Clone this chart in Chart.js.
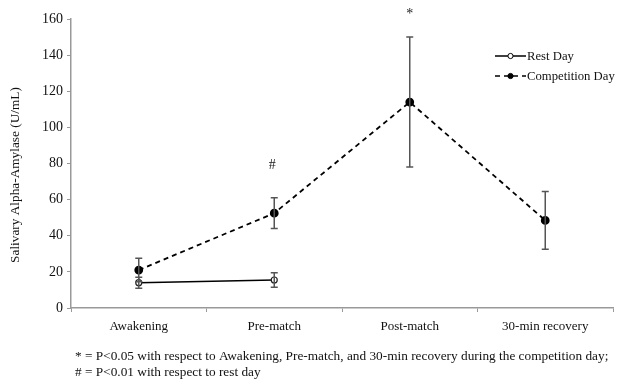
<!DOCTYPE html>
<html>
<head>
<meta charset="utf-8">
<script src="https://cdn.jsdelivr.net/npm/chart.js@4.4.1/dist/chart.umd.min.js"></script>
<style>
html,body{margin:0;padding:0;background:#fff;}
#wrap{width:619px;height:382px;position:relative;}
</style>
</head>
<body>
<div id="wrap"><canvas id="c" width="619" height="382"></canvas></div>
<script>
const categories = ["Awakening", "Pre-match", "Post-match", "30-min recovery"];
const restMean = [14, 15.5, null, null];
const restSD = [3, 4, null, null];
const compMean = [21, 52.5, 114, 48.5];
const compSD = [6.5, 8.5, 36, 16];
const yTicks = [0, 20, 40, 60, 80, 100, 120, 140, 160];
const yTitle = "Salivary Alpha-Amylase (U/mL)";
const annotations = [{index: 1, value: 79, text: "#"}, {index: 2, value: 162.5, text: "*"}];
const footnotes = [
  "* = P<0.05 with respect to Awakening, Pre-match, and 30-min recovery during the competition day;",
  "# = P<0.01 with respect to rest day"
];

const FONT = "'Liberation Serif', 'DejaVu Serif', serif";

const errorBars = {
  id: 'errorBars',
  afterDatasetsDraw(chart) {
    const ctx = chart.ctx, x = chart.scales.x, y = chart.scales.y;
    const sets = [[restMean, restSD], [compMean, compSD]];
    ctx.save();
    ctx.strokeStyle = '#555';
    ctx.lineWidth = 1.5;
    sets.forEach(([m, s]) => {
      m.forEach((v, i) => {
        if (v == null) return;
        const px = x.getPixelForValue(i);
        const t = y.getPixelForValue(v + s[i]);
        const b = y.getPixelForValue(v - s[i]);
        ctx.beginPath();
        ctx.moveTo(px, t); ctx.lineTo(px, b);
        ctx.moveTo(px - 3.5, t); ctx.lineTo(px + 3.5, t);
        ctx.moveTo(px - 3.5, b); ctx.lineTo(px + 3.5, b);
        ctx.stroke();
      });
    });
    ctx.restore();
  }
};

const extras = {
  id: 'extras',
  afterDraw(chart) {
    const ctx = chart.ctx, x = chart.scales.x, y = chart.scales.y;
    ctx.save();
    ctx.fillStyle = '#222';
    ctx.font = "14px " + FONT;
    ctx.textAlign = 'center';
    ctx.textBaseline = 'middle';
    annotations.forEach(a => {
      ctx.fillText(a.text, x.getPixelForValue(a.index) - (a.text === '#' ? 2 : 0), y.getPixelForValue(a.value));
    });
    // y title
    ctx.save();
    ctx.translate(16, 175);
    ctx.rotate(-Math.PI / 2);
    ctx.font = "13.3px " + FONT;
    ctx.fillStyle = '#111';
    ctx.fillText(yTitle, 0, 0);
    ctx.restore();
    // legend
    const ds = chart.data.datasets;
    const lx = 495, items = [56, 76];
    ds.forEach((d, i) => {
      const ly = items[i];
      ctx.strokeStyle = '#000';
      ctx.lineWidth = 1.5;
      ctx.setLineDash(d.borderDash || []);
      ctx.beginPath(); ctx.moveTo(lx, ly); ctx.lineTo(lx + 31, ly); ctx.stroke();
      ctx.setLineDash([]);
      ctx.beginPath(); ctx.arc(lx + 15.5, ly, 2.6, 0, Math.PI * 2);
      ctx.fillStyle = d.pointBackgroundColor; ctx.fill();
      ctx.lineWidth = 1; ctx.stroke();
      ctx.fillStyle = '#111';
      ctx.font = "12.7px " + FONT;
      ctx.textAlign = 'left';
      ctx.fillText(d.label, lx + 32, ly + 1);
    });
    // footnotes
    ctx.font = "13.3px " + FONT;
    ctx.fillStyle = '#111';
    ctx.textAlign = 'left';
    footnotes.forEach((f, i) => ctx.fillText(f, 75, 357 + i * 15.5));
    ctx.restore();
  }
};

new Chart(document.getElementById('c'), {
  type: 'line',
  data: {
    labels: categories,
    datasets: [
      {
        label: 'Rest Day',
        data: restMean,
        borderColor: '#000',
        borderWidth: 1.6,
        pointBackgroundColor: '#fff',
        pointBorderColor: '#222',
        pointBorderWidth: 1.2,
        pointRadius: 3,
        spanGaps: false,
        tension: 0
      },
      {
        label: 'Competition Day',
        data: compMean,
        borderColor: '#000',
        borderWidth: 1.8,
        borderDash: [5, 4],
        pointBackgroundColor: '#000',
        pointBorderColor: '#000',
        pointRadius: 3.5,
        tension: 0
      }
    ]
  },
  options: {
    responsive: false,
    animation: false,
    layout: { padding: { left: 0, right: 6, top: 19, bottom: 44 } },
    plugins: { legend: { display: false }, tooltip: { enabled: false } },
    scales: {
      x: {
        offset: true,
        grid: { drawOnChartArea: false, offset: true, color: '#999', tickLength: 4, tickColor: '#999' },
        border: { color: '#999', width: 1.5 },
        ticks: { font: { family: FONT, size: 13 }, color: '#111', padding: 7 },
        afterFit(s) { s.height = 30; }
      },
      y: {
        min: 0, max: 160,
        afterBuildTicks(s) { s.ticks = yTicks.map(v => ({ value: v })); },
        grid: { drawOnChartArea: false, color: '#999', tickLength: 4, tickColor: '#999' },
        border: { color: '#999', width: 1.5 },
        ticks: { font: { family: FONT, size: 14 }, color: '#111', padding: 4 },
        title: { display: false },
        afterFit(s) { s.width = 71; }
      }
    }
  },
  plugins: [errorBars, extras]
});
</script>
</body>
</html>
